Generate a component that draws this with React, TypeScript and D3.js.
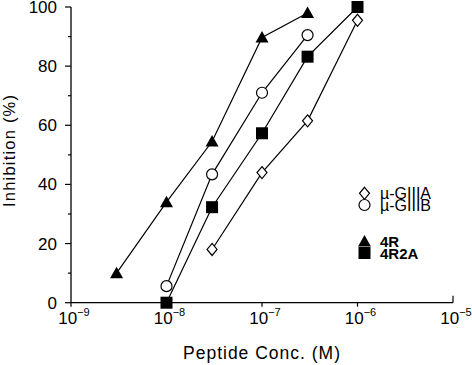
import * as d3 from "d3";
import React, { useRef, useEffect } from "react";

// concentrations (M) and % inhibition
const giiiaConc = [3e-8, 1e-7, 3e-7, 1e-6];
const giiiaVals = [18, 44, 61.5, 95.5];
const giiibConc = [1e-8, 3e-8, 1e-7, 3e-7];
const giiibVals = [5.6, 43.4, 71, 90.5];
const r4Conc = [3e-9, 1e-8, 3e-8, 1e-7, 3e-7];
const r4Vals = [10, 34, 54.5, 89.7, 98];
const r4r2aConc = [1e-8, 3e-8, 1e-7, 3e-7, 1e-6];
const r4r2aVals = [0, 32.3, 57.3, 83.2, 100];

const xTicks = [1e-9, 1e-8, 1e-7, 1e-6, 1e-5];
const yTicks = [0, 20, 40, 60, 80, 100];
const legendLabels = ["\u00b5-GIIIA", "\u00b5-GIIIB", "4R", "4R2A"];

const W = 472;
const H = 365;
const FONT = "Liberation Sans, Arial, sans-serif";

function drawMarker(g, shape, x, y) {
  if (shape === "diamond") {
    g.append("path")
      .attr("d", `M${x},${y - 6}L${x + 5},${y}L${x},${y + 6}L${x - 5},${y}Z`)
      .attr("fill", "white")
      .attr("stroke", "black")
      .attr("stroke-width", 1.2);
  } else if (shape === "circle") {
    g.append("circle")
      .attr("cx", x)
      .attr("cy", y)
      .attr("r", 5.5)
      .attr("fill", "white")
      .attr("stroke", "black")
      .attr("stroke-width", 1.2);
  } else if (shape === "triangle") {
    g.append("path")
      .attr("d", `M${x},${y - 6.5}L${x + 6.5},${y + 5}L${x - 6.5},${y + 5}Z`)
      .attr("fill", "black");
  } else {
    g.append("rect")
      .attr("x", x - 6)
      .attr("y", y - 6)
      .attr("width", 12)
      .attr("height", 12)
      .attr("fill", "black");
  }
}

function Chart() {
  const ref = useRef(null);

  useEffect(() => {
    const svg = d3.select(ref.current);
    svg.selectAll("*").remove();

    const x = d3.scaleLog().domain([1e-9, 1e-5]).range([71, 453]);
    const y = d3.scaleLinear().domain([0, 100]).range([302.7, 7]);

    // y axis
    const yAxis = svg.append("g").attr("transform", "translate(71,0)");
    yAxis.append("line").attr("x1", 0).attr("x2", 0).attr("y1", y(100)).attr("y2", y(0)).attr("stroke", "black").attr("stroke-width", 1.3);
    d3.range(0, 101, 10).forEach((v) => {
      yAxis.append("line")
        .attr("x1", v % 20 === 0 ? -6 : -3)
        .attr("x2", 0)
        .attr("y1", y(v))
        .attr("y2", y(v))
        .attr("stroke", "black")
        .attr("stroke-width", 1.2);
    });
    yTicks.forEach((v) => {
      yAxis.append("text")
        .attr("x", -14)
        .attr("y", y(v) + 6)
        .attr("text-anchor", "end")
        .attr("font-family", FONT)
        .attr("font-size", 17)
        .text(v);
    });

    // x axis
    const xAxis = svg.append("g");
    xAxis.append("line").attr("x1", 71).attr("x2", x(1e-5)).attr("y1", y(0)).attr("y2", y(0)).attr("stroke", "black").attr("stroke-width", 1.3);
    xTicks.forEach((t, i) => {
      const last = i === xTicks.length - 1;
      xAxis.append("line")
        .attr("x1", x(t))
        .attr("x2", x(t))
        .attr("y1", y(0))
        .attr("y2", last ? y(0) - 7 : y(0) + 4)
        .attr("stroke", "black")
        .attr("stroke-width", 1.2);
      const txt = xAxis.append("text")
        .attr("x", x(t) + 3)
        .attr("y", 323.5)
        .attr("text-anchor", "middle")
        .attr("font-family", FONT)
        .attr("font-size", 17);
      txt.append("tspan").text("10");
      txt.append("tspan")
        .attr("dy", -7.5)
        .attr("font-size", 11)
        .text("\u2212" + Math.round(-Math.log10(t)));
    });

    // axis titles
    svg.append("text")
      .attr("x", 261.5)
      .attr("y", 359)
      .attr("text-anchor", "middle")
      .attr("font-family", FONT)
      .attr("font-size", 17.5)
      .attr("textLength", 157)
      .text("Peptide Conc. (M)");
    svg.append("text")
      .attr("transform", "translate(14.5,151) rotate(-90)")
      .attr("text-anchor", "middle")
      .attr("font-family", FONT)
      .attr("font-size", 16.5)
      .attr("textLength", 112)
      .text("Inhibition (%)");

    const series = [
      { conc: giiiaConc, vals: giiiaVals, shape: "diamond" },
      { conc: giiibConc, vals: giiibVals, shape: "circle" },
      { conc: r4r2aConc, vals: r4r2aVals, shape: "square" },
      { conc: r4Conc, vals: r4Vals, shape: "triangle" },
    ];
    const line = d3.line().x((d) => x(d[0])).y((d) => y(d[1]));
    const plot = svg.append("g");
    series.forEach((s) => {
      const pts = s.conc.map((c, i) => [c, s.vals[i]]);
      plot.append("path")
        .attr("d", line(pts))
        .attr("fill", "none")
        .attr("stroke", "black")
        .attr("stroke-width", 1.2);
    });
    series.forEach((s) => {
      s.conc.forEach((c, i) => drawMarker(plot, s.shape, x(c), y(s.vals[i])));
    });

    // legend
    const legend = svg.append("g");
    const legendShapes = ["diamond", "circle", "triangle", "square"];
    const legendY = [193.3, 205, 241.5, 253];
    legendLabels.forEach((lab, i) => {
      drawMarker(legend, legendShapes[i], 364.5, legendY[i]);
      legend.append("text")
        .attr("x", 380)
        .attr("y", legendY[i] + 5.5)
        .attr("font-family", FONT)
        .attr("font-size", i >= 2 ? 15 : 16)
        .attr("font-weight", i >= 2 ? "bold" : "normal")
        .text(lab);
    });
  }, []);

  return <svg ref={ref} width={W} height={H} style={{ display: "block" }}></svg>;
}

export default function App() {
  return (
    <div style={{ position: "absolute", left: 0, top: 0, width: W, height: H, overflow: "hidden", background: "white" }}>
      <Chart />
    </div>
  );
}
